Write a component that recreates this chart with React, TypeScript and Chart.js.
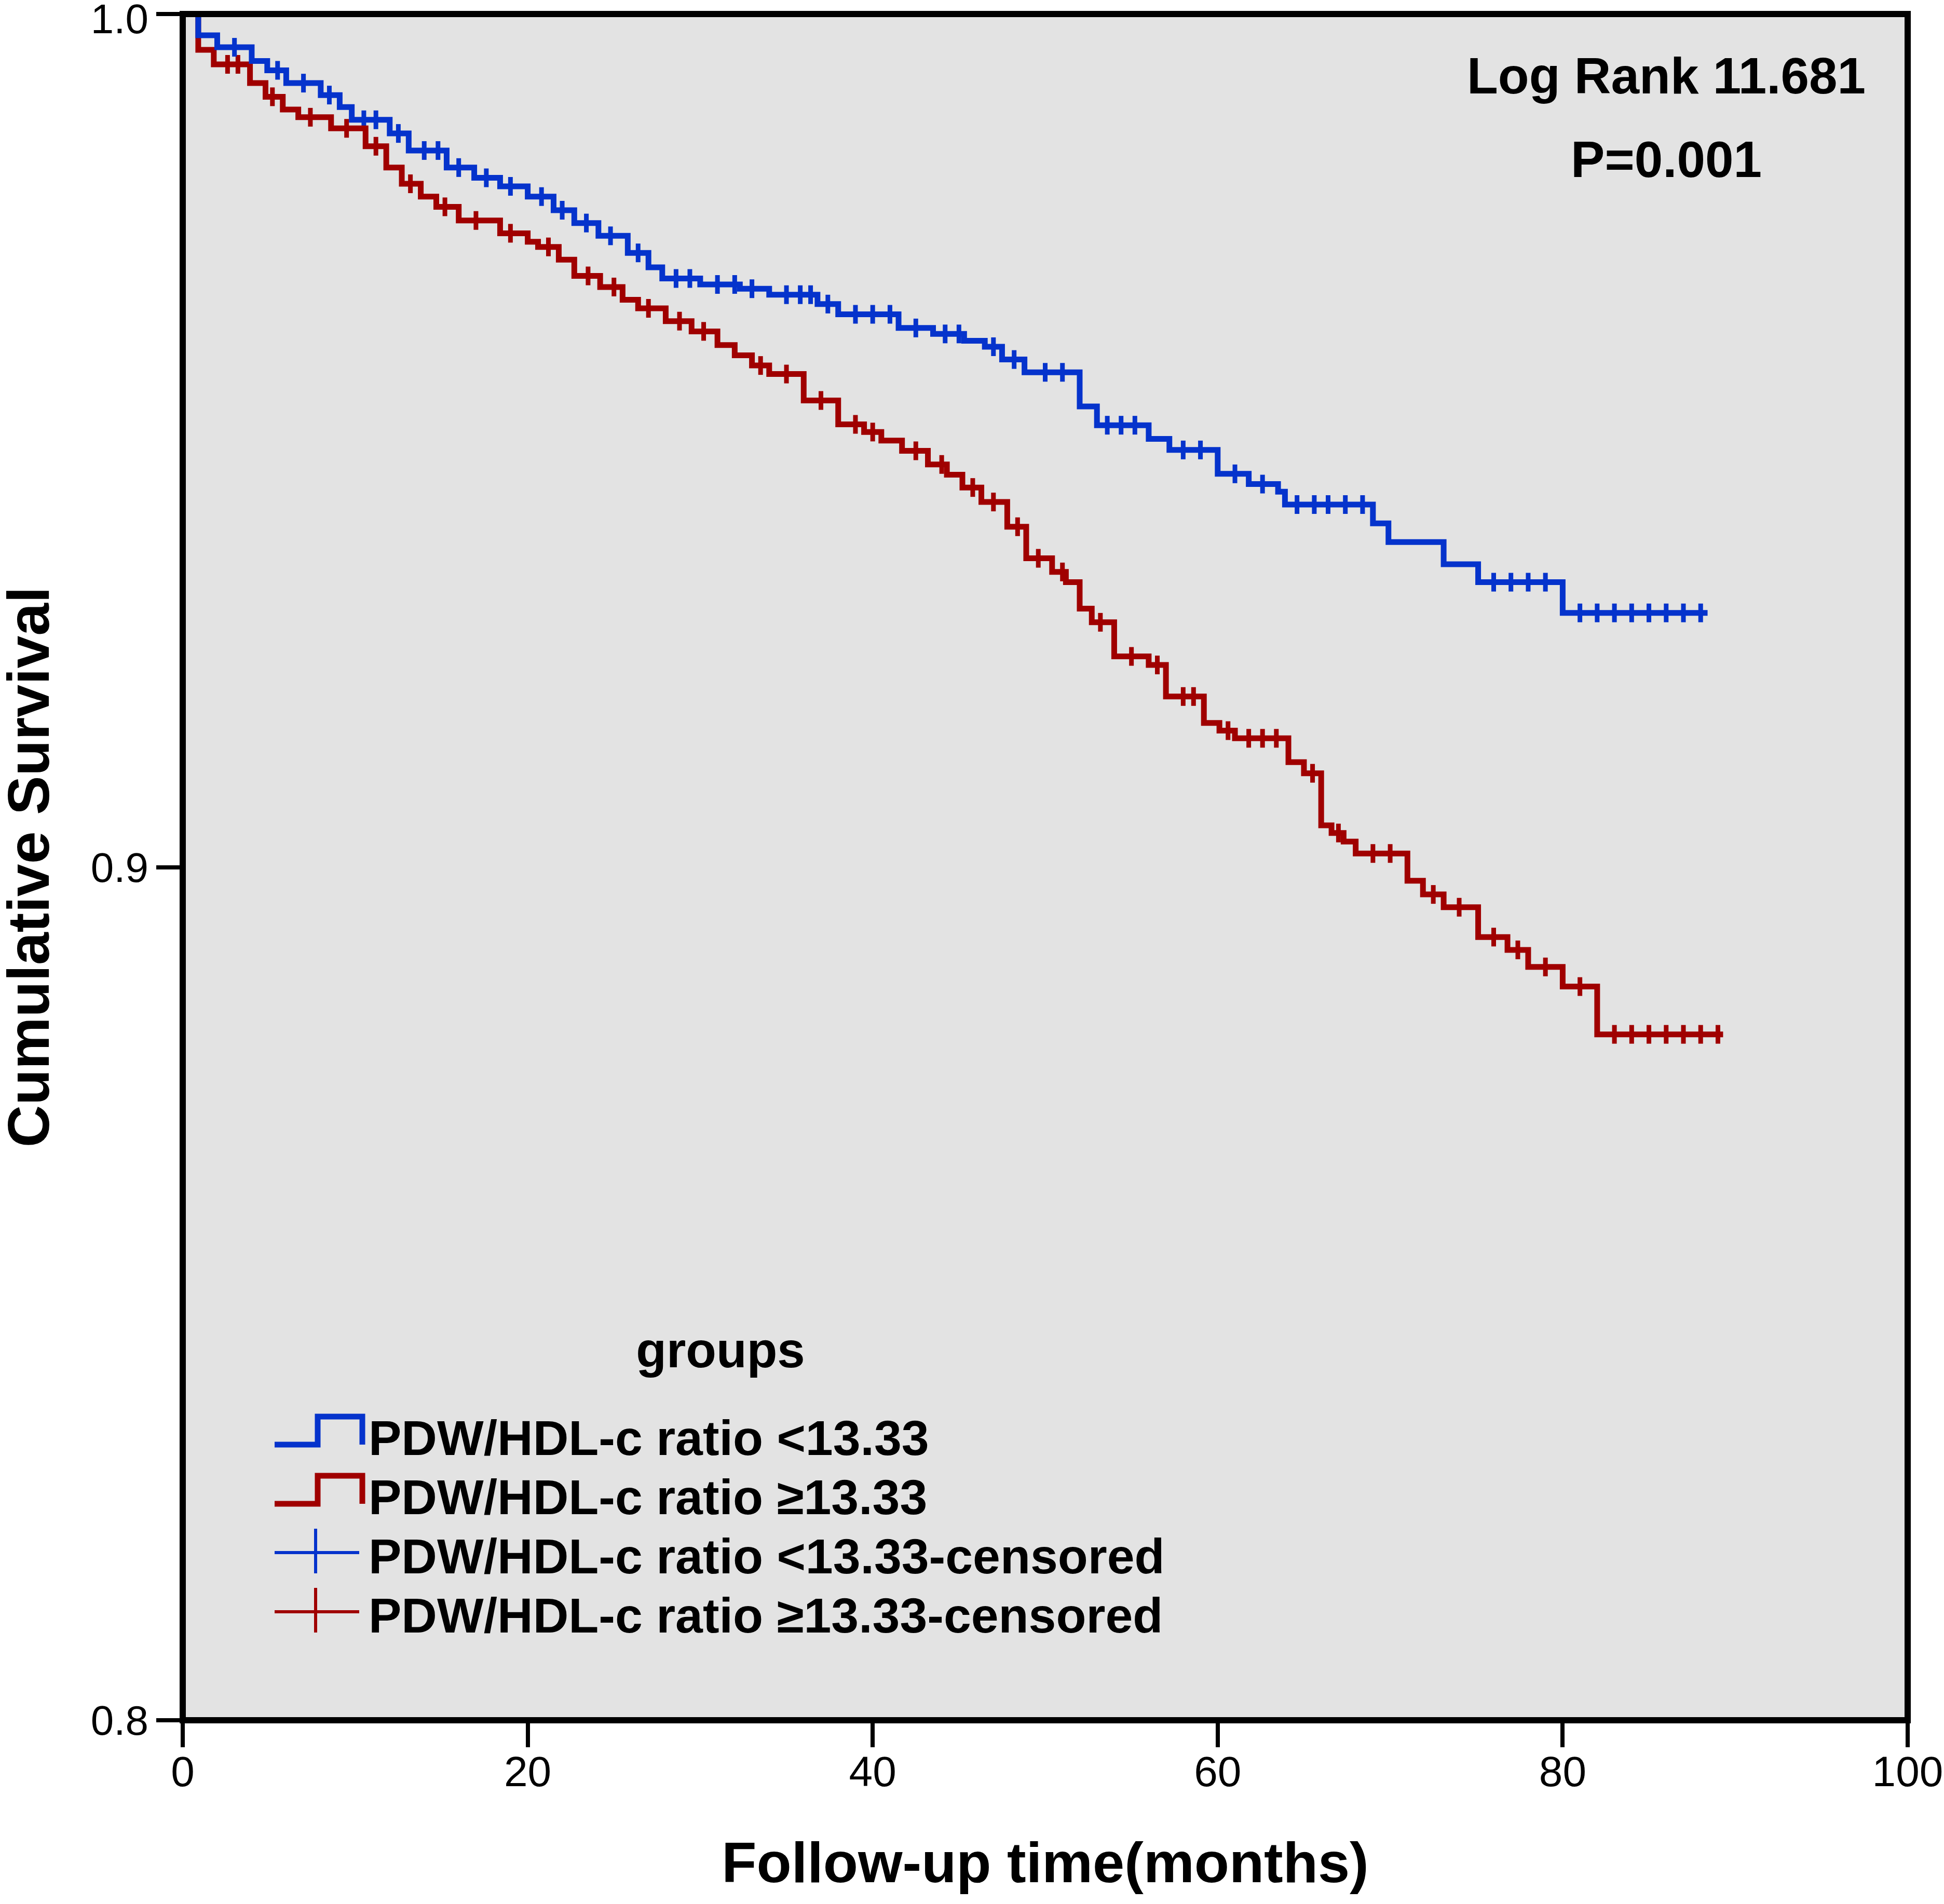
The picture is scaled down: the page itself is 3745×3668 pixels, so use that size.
import React, { useEffect, useRef } from 'react';
import { Chart, registerables } from 'chart.js';

Chart.register(...registerables);

// ---------- data ----------
const xTicks = [0, 20, 40, 60, 80, 100];
const yTicks = [0.8, 0.9, 1.0];

const seriesLabels = [
  'PDW/HDL-c ratio <13.33',
  'PDW/HDL-c ratio \u226513.33',
  'PDW/HDL-c ratio <13.33-censored',
  'PDW/HDL-c ratio \u226513.33-censored',
];
const legendTitle = 'groups';
const statLines = ['Log Rank 11.681', 'P=0.001'];

// group PDW/HDL-c ratio < 13.33 (event times, survival after each step)
const lowTimes = [0, 0.9, 2.0, 4.0, 4.9, 6.0, 8.0, 9.1, 9.8, 12.0, 13.1, 15.3, 16.9, 18.4, 20.0, 21.5, 22.7, 24.1, 25.8, 27.0, 27.8, 30.0, 32.3, 34.0, 36.8, 38.0, 41.5, 43.5, 45.3, 46.5, 47.5, 48.8, 52.0, 53.0, 56.0, 57.2, 60.0, 61.8, 63.5, 63.9, 69.0, 69.9, 73.1, 75.1, 80.0];
const lowSurv = [1.0, 0.9975, 0.9961, 0.9945, 0.9934, 0.9919, 0.9905, 0.9891, 0.9876, 0.9860, 0.9840, 0.9820, 0.9808, 0.9798, 0.9786, 0.9770, 0.9755, 0.9740, 0.9720, 0.9703, 0.9690, 0.9683, 0.9678, 0.9671, 0.9660, 0.9648, 0.9632, 0.9625, 0.9617, 0.9610, 0.9595, 0.9580, 0.9540, 0.9518, 0.9502, 0.9489, 0.9461, 0.9449, 0.9440, 0.9425, 0.9403, 0.9381, 0.9355, 0.9334, 0.9298];
const lowEnd = 88.4;
const lowCensored = [3, 5.5, 7, 8.5, 10.5, 11.2, 12.5, 14, 14.8, 16, 17.6, 19, 20.8, 22, 23.4, 24.8, 26.4, 28.6, 29.4, 31, 32, 33, 35, 35.8, 36.4, 37.4, 39, 40, 41, 42.5, 44.2, 45, 47, 48.2, 50, 51, 53.6, 54.4, 55.2, 58, 59, 61, 62.6, 64.6, 65.6, 66.4, 67.4, 68.4, 76, 77, 78, 79, 81, 82, 83, 84, 85, 86, 87, 88];

// group PDW/HDL-c ratio >= 13.33
const highTimes = [0, 0.9, 1.8, 3.9, 4.8, 5.8, 6.7, 8.6, 10.6, 11.8, 12.7, 13.8, 14.7, 16.0, 18.4, 20.0, 20.6, 21.8, 22.7, 24.2, 25.5, 26.4, 28.0, 29.5, 31.0, 32.0, 33.0, 34.0, 36.0, 38.0, 39.5, 40.5, 41.7, 43.2, 44.3, 45.2, 46.3, 47.8, 48.9, 50.4, 51.2, 52.0, 52.7, 54.0, 56.0, 57.0, 59.2, 60.1, 61.0, 64.1, 65.0, 66.0, 66.6, 67.3, 68.0, 71.0, 71.9, 73.1, 75.1, 76.8, 78.0, 80.0, 82.0];
const highSurv = [1.0, 0.9958, 0.9941, 0.9919, 0.9903, 0.9888, 0.9879, 0.9866, 0.9845, 0.9820, 0.9801, 0.9786, 0.9774, 0.9758, 0.9743, 0.9733, 0.9727, 0.9712, 0.9693, 0.9680, 0.9665, 0.9655, 0.9640, 0.9628, 0.9612, 0.9600, 0.9588, 0.9578, 0.9547, 0.9519, 0.9510, 0.9500, 0.9488, 0.9472, 0.9460, 0.9445, 0.9428, 0.9399, 0.9362, 0.9346, 0.9334, 0.9303, 0.9287, 0.9247, 0.9237, 0.9200, 0.9169, 0.9160, 0.9151, 0.9123, 0.9110, 0.9049, 0.9040, 0.9030, 0.9016, 0.8984, 0.8968, 0.8953, 0.8918, 0.8903, 0.8883, 0.8860, 0.8804];
const highEnd = 89.3;
const highCensored = [2.6, 3.2, 5.2, 7.4, 9.5, 11.2, 13.2, 15.2, 17, 19, 21.2, 23.5, 25, 27, 28.8, 30.2, 33.5, 35, 37, 39, 40, 42.5, 44, 45.8, 47, 48.4, 49.6, 51, 53.2, 55, 56.5, 58, 58.6, 60.6, 61.8, 62.6, 63.4, 65.5, 67, 69, 70, 72.5, 74, 76, 77.4, 79, 81, 83, 84, 85, 86, 87, 88, 89];

// ---------- styling ----------
const BLUE = '#0533cc';
const RED = '#a00000';
const FONT = "'Liberation Sans', Arial, Helvetica, sans-serif";

const stepData = (times: number[], surv: number[], end: number) => [
  ...times.map((t, i) => ({ x: t, y: surv[i] })),
  { x: end, y: surv[surv.length - 1] },
];

const censorData = (cens: number[], times: number[], surv: number[]) =>
  cens.map((t) => {
    let s = surv[0];
    for (let i = 0; i < times.length; i++) if (times[i] <= t) s = surv[i];
    return { x: t, y: s };
  });

const plotBg = {
  id: 'plotBg',
  beforeDraw(chart: any) {
    const { ctx, chartArea: a } = chart;
    ctx.save();
    ctx.fillStyle = '#e3e3e3';
    ctx.fillRect(a.left, a.top, a.right - a.left, a.bottom - a.top);
    ctx.restore();
    // shift the top y label down so it stays inside the picture, like the reference
    const ys = chart.scales.y;
    const items = ys.getLabelItems(chart.chartArea);
    items.forEach((it: any) => {
      if (it.label === '1.0' && !it.__shifted) {
        it.options.translation[1] += 9;
        it.__shifted = true;
      }
    });
  },
};

const frame = {
  id: 'frame',
  afterDatasetsDraw(chart: any) {
    const { ctx, chartArea: a } = chart;
    ctx.save();
    ctx.strokeStyle = '#000';
    ctx.lineWidth = 12;
    ctx.strokeRect(a.left, a.top, a.right - a.left, a.bottom - a.top);
    ctx.restore();
  },
};

const annotations = {
  id: 'annotations',
  afterDraw(chart: any) {
    const { ctx } = chart;
    ctx.save();
    ctx.fillStyle = '#000';
    ctx.textBaseline = 'alphabetic';

    // Log rank statistics
    ctx.font = `bold 98px ${FONT}`;
    ctx.textAlign = 'center';
    ctx.fillText(statLines[0], 3210, 180);
    ctx.fillText(statLines[1], 3210, 341);

    // legend
    ctx.font = `bold 96px ${FONT}`;
    ctx.fillText(legendTitle, 1388, 2634);

    ctx.font = `bold 95px ${FONT}`;
    ctx.textAlign = 'left';
    const baselines = [2803, 2917, 3031, 3145];
    const colors = [BLUE, RED, BLUE, RED];
    baselines.forEach((b, i) => {
      ctx.strokeStyle = colors[i];
      ctx.lineCap = 'butt';
      ctx.lineJoin = 'miter';
      ctx.beginPath();
      if (i < 2) {
        ctx.lineWidth = 11;
        const low = b - 20;
        const high = b - 74;
        ctx.moveTo(529, low);
        ctx.lineTo(612, low);
        ctx.lineTo(612, high);
        ctx.lineTo(698, high);
        ctx.lineTo(698, low);
      } else {
        ctx.lineWidth = 6;
        ctx.moveTo(529, b - 40);
        ctx.lineTo(692, b - 40);
        ctx.moveTo(608, b - 86);
        ctx.lineTo(608, b);
      }
      ctx.stroke();
      ctx.fillStyle = '#000';
      ctx.fillText(seriesLabels[i], 710, b);
    });
    ctx.restore();
  },
};

export default function App() {
  const ref = useRef<HTMLCanvasElement | null>(null);

  useEffect(() => {
    if (!ref.current) return;
    const chart = new Chart(ref.current, {
      type: 'line',
      data: {
        datasets: [
          {
            label: seriesLabels[0],
            data: stepData(lowTimes, lowSurv, lowEnd),
            stepped: 'before',
            borderColor: BLUE,
            backgroundColor: BLUE,
            borderWidth: 11,
            pointRadius: 0,
            fill: false,
          },
          {
            label: seriesLabels[1],
            data: stepData(highTimes, highSurv, highEnd),
            stepped: 'before',
            borderColor: RED,
            backgroundColor: RED,
            borderWidth: 11,
            pointRadius: 0,
            fill: false,
          },
          {
            label: seriesLabels[2],
            data: censorData(lowCensored, lowTimes, lowSurv),
            showLine: false,
            pointStyle: 'line',
            pointRotation: 90,
            pointRadius: 18,
            pointBorderWidth: 9,
            pointBorderColor: BLUE,
            borderColor: BLUE,
            backgroundColor: BLUE,
          },
          {
            label: seriesLabels[3],
            data: censorData(highCensored, highTimes, highSurv),
            showLine: false,
            pointStyle: 'line',
            pointRotation: 90,
            pointRadius: 18,
            pointBorderWidth: 9,
            pointBorderColor: RED,
            borderColor: RED,
            backgroundColor: RED,
          },
        ],
      } as any,
      options: {
        animation: false,
        responsive: true,
        maintainAspectRatio: false,
        events: [],
        layout: { padding: { left: 0, right: 70, top: 20, bottom: 0 } },
        scales: {
          x: {
            type: 'linear',
            min: 0,
            max: 100,
            afterBuildTicks: (s: any) => {
              s.ticks = xTicks.map((v) => ({ value: v }));
            },
            afterFit: (s: any) => {
              s.height = 354;
              s.paddingLeft = 0;
              s.paddingRight = 0;
            },
            ticks: {
              color: '#000',
              font: { family: FONT, size: 82, lineHeight: 1 },
              padding: 11,
              maxRotation: 0,
              autoSkip: false,
              callback: (v: any) => String(v),
            },
            grid: {
              display: true,
              drawOnChartArea: false,
              drawTicks: true,
              tickLength: 52,
              color: '#000',
              lineWidth: 8,
            },
            border: { display: false },
            title: {
              display: true,
              text: 'Follow-up time(months)',
              color: '#000',
              font: { family: FONT, size: 110, weight: 'bold', lineHeight: 1 },
              padding: { top: 0, bottom: 17 },
            },
          },
          y: {
            type: 'linear',
            min: 0.8,
            max: 1.0,
            afterBuildTicks: (s: any) => {
              s.ticks = yTicks.map((v) => ({ value: v }));
            },
            afterFit: (s: any) => {
              s.width = 352;
              s.paddingTop = 0;
              s.paddingBottom = 0;
            },
            ticks: {
              color: '#000',
              font: { family: FONT, size: 80, lineHeight: 1 },
              padding: 15,
              labelOffset: 6,
              autoSkip: false,
              callback: (v: any) => Number(v).toFixed(1),
            },
            grid: {
              display: true,
              drawOnChartArea: false,
              drawTicks: true,
              tickLength: 51,
              color: '#000',
              lineWidth: 8,
            },
            border: { display: false },
            title: {
              display: true,
              text: 'Cumulative Survival',
              color: '#000',
              font: { family: FONT, size: 113, weight: 'bold', lineHeight: 1 },
              padding: { top: 6, bottom: 0 },
            },
          },
        },
        plugins: {
          legend: { display: false },
          tooltip: { enabled: false },
        },
      } as any,
      plugins: [plotBg, frame, annotations],
    });
    return () => chart.destroy();
  }, []);

  return (
    <div
      style={{
        position: 'absolute',
        left: 0,
        top: 0,
        width: '3745px',
        height: '3668px',
        background: '#ffffff',
      }}
    >
      <canvas ref={ref} />
    </div>
  );
}
